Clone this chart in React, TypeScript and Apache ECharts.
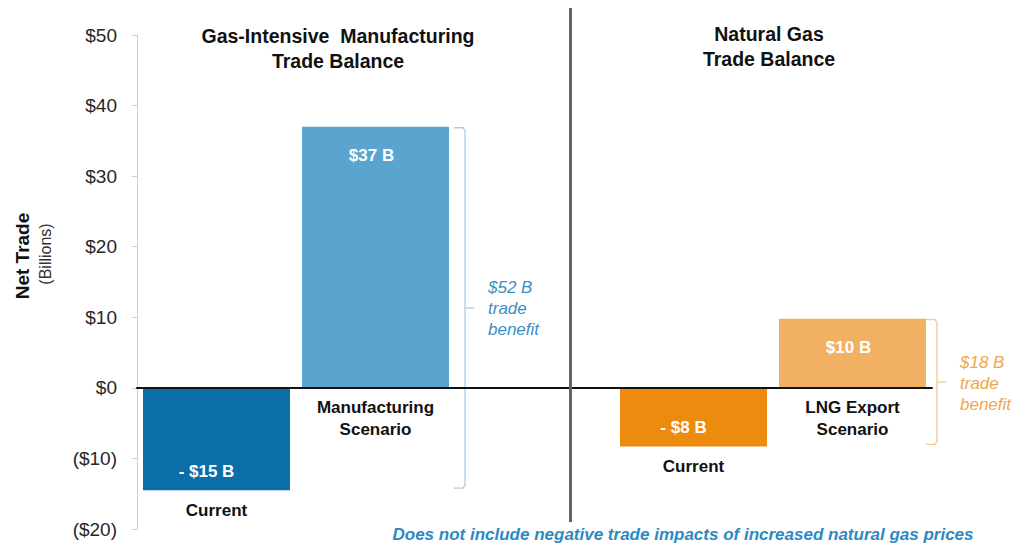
import React, { useEffect, useRef } from "react";
import * as echarts from "echarts";

const categoryKeys = ["current-mfg", "mfg-scenario", "gap", "current-gas", "lng-scenario"];
const categoryNames = ["Current", "Manufacturing\nScenario", "", "Current", "LNG Export\nScenario"];
const netTrade: (number | null)[] = [-14.5, 37, null, -8.3, 9.8];
const valueLabels = ["- $15 B", "$37 B", "", "- $8 B", "$10 B"];
const barColors = ["#0b6ea9", "#5aa5cf", "rgba(0,0,0,0)", "#ec8b0d", "#f2b162"];
const panelTitles = ["Gas-Intensive  Manufacturing\nTrade Balance", "Natural Gas\nTrade Balance"];
const benefitLabels = ["$52 B\ntrade\nbenefit", "$18 B\ntrade\nbenefit"];
const yMin = -20;
const yMax = 50;
const yInterval = 10;
const yAxisTitle = "Net Trade";
const yAxisSubtitle = "(Billions)";
const footnote = "Does not include negative trade impacts of increased natural gas prices";

const FONT = "'Liberation Sans', Arial, Helvetica, sans-serif";
const BAR_W = 147;

export default function App() {
  const ref = useRef<HTMLDivElement>(null);

  useEffect(() => {
    if (!ref.current) return;
    const chart = echarts.init(ref.current, null, { renderer: "svg" });
    const option: any = {
      animation: false,
      backgroundColor: "#ffffff",
      textStyle: { fontFamily: FONT },
      grid: { left: 137, right: 87, top: 35, bottom: 19, containLabel: false },
      xAxis: {
        type: "category",
        data: categoryKeys,
        z: 5,
        axisLine: { show: true, onZero: true, lineStyle: { color: "#111111", width: 2 } },
        axisTick: { show: false },
        axisLabel: { show: false },
        splitLine: { show: false },
      },
      yAxis: {
        type: "value",
        min: yMin,
        max: yMax,
        interval: yInterval,
        axisLine: { show: true, lineStyle: { color: "#cfcfcf", width: 1 } },
        axisTick: { show: true, length: 5, lineStyle: { color: "#cfcfcf" } },
        splitLine: { show: false },
        axisLabel: {
          margin: 20,
          fontSize: 19,
          color: "#262626",
          fontFamily: FONT,
          formatter: (v: number) => (v < 0 ? `($${-v})` : `$${v}`),
        },
      },
      series: [
        {
          type: "bar",
          barWidth: BAR_W,
          z: 2,
          data: netTrade.map((v, i) => ({
            value: v,
            itemStyle: { color: barColors[i] },
            label: {
              position: v !== null && v >= 0 ? "insideTop" : "insideBottom",
              distance: v !== null && v >= 0 ? 20 : 10,
              offset: v !== null && v >= 0 ? [-4, 0] : [-10, 0],
            },
          })),
          label: {
            show: true,
            color: "#ffffff",
            fontWeight: "bold",
            fontSize: 17,
            fontFamily: FONT,
            formatter: (p: any) => valueLabels[p.dataIndex],
          },
        },
        {
          type: "bar",
          barWidth: BAR_W,
          barGap: "-100%",
          silent: true,
          z: 3,
          data: netTrade.map((v) => ({ value: v })),
          itemStyle: { color: "rgba(0,0,0,0)" },
          label: {
            show: true,
            position: "bottom",
            distance: 9,
            color: "#111111",
            fontWeight: "bold",
            fontSize: 17,
            lineHeight: 22,
            align: "center",
            fontFamily: FONT,
            formatter: (p: any) => categoryNames[p.dataIndex],
          },
        },
      ],
    };
    chart.setOption(option);

    const px = (i: number, v: number) => chart.convertToPixel({ gridIndex: 0 }, [i, v]) as number[];
    const dividerX = (px(1, 0)[0] + px(3, 0)[0]) / 2 + 36;

    const bracket = (topIdx: number, botIdx: number, gap: number, color: string, textColor: string, label: string) => {
      const top = px(topIdx, netTrade[topIdx] as number);
      const bot = px(botIdx, netTrade[botIdx] as number);
      const x = top[0] + BAR_W / 2 + gap;
      const yTop = top[1] + 1;
      const yBot = bot[1] - 2;
      const yMid = (yTop + yBot) / 2;
      return [
        {
          type: "polyline",
          silent: true,
          shape: { points: [[x - 11, yTop], [x - 2, yTop], [x, yTop + 3], [x, yBot - 3], [x - 2, yBot], [x - 11, yBot]] },
          style: { stroke: color, lineWidth: 1.3, fill: null },
        },
        {
          type: "line",
          silent: true,
          shape: { x1: x, y1: yMid, x2: x + 9, y2: yMid },
          style: { stroke: color, lineWidth: 1.3 },
        },
        {
          type: "text",
          silent: true,
          x: x + 23,
          y: yMid + 1,
          style: {
            text: label,
            fill: textColor,
            font: `italic 17px ${FONT}`,
            lineHeight: 21,
            textAlign: "left",
            textVerticalAlign: "middle",
          },
        },
      ];
    };

    const titleStyle = (text: string) => ({
      text,
      fill: "#111111",
      font: `bold 19.5px ${FONT}`,
      lineHeight: 25,
      textAlign: "center",
      textVerticalAlign: "top",
    });

    chart.setOption({
      graphic: [
        {
          type: "line",
          silent: true,
          z: 10,
          shape: { x1: dividerX, y1: 8, x2: dividerX, y2: 522 },
          style: { stroke: "#636363", lineWidth: 3 },
        },
        ...bracket(1, 0, 16, "#a9cde6", "#3a8fc4", benefitLabels[0]),
        ...bracket(4, 3, 11, "#f6c98f", "#f0a64a", benefitLabels[1]),
        { type: "text", silent: true, x: 338, y: 23, style: titleStyle(panelTitles[0]) },
        { type: "text", silent: true, x: 769, y: 21, style: titleStyle(panelTitles[1]) },
        {
          type: "text",
          silent: true,
          x: 22,
          y: 256,
          rotation: Math.PI / 2,
          style: { text: yAxisTitle, fill: "#111111", font: `bold 19px ${FONT}`, textAlign: "center", textVerticalAlign: "middle" },
        },
        {
          type: "text",
          silent: true,
          x: 45,
          y: 254,
          rotation: Math.PI / 2,
          style: { text: yAxisSubtitle, fill: "#333333", font: `16px ${FONT}`, textAlign: "center", textVerticalAlign: "middle" },
        },
        {
          type: "text",
          silent: true,
          x: 683,
          y: 534,
          style: {
            text: footnote,
            fill: "#2b8ac2",
            font: `italic bold 17px ${FONT}`,
            textAlign: "center",
            textVerticalAlign: "middle",
          },
        },
      ],
    });

    return () => chart.dispose();
  }, []);

  return (
    <div
      ref={ref}
      style={{ position: "fixed", left: 0, top: 0, width: 1019, height: 548, background: "#fff" }}
    />
  );
}
